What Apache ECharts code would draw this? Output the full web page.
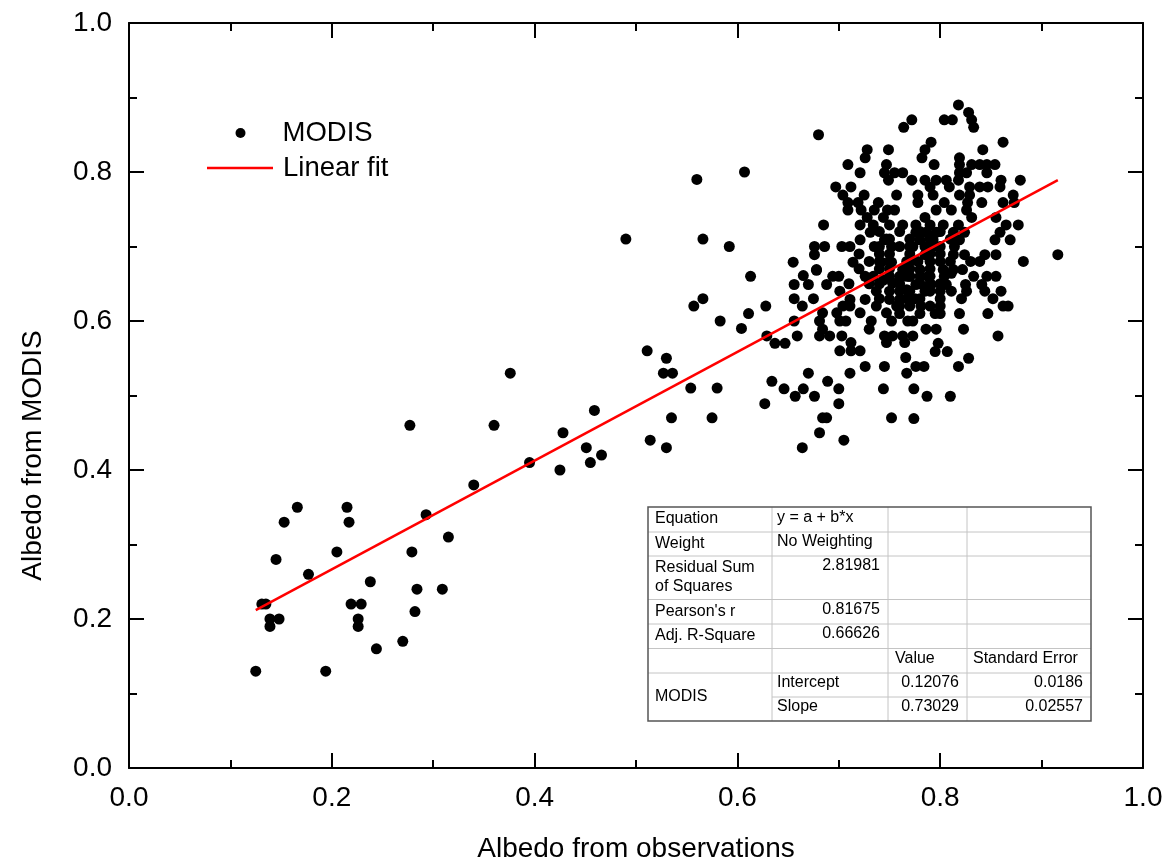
<!DOCTYPE html>
<html>
<head>
<meta charset="utf-8">
<script src="https://cdn.jsdelivr.net/npm/echarts@6/dist/echarts.min.js"></script>
<style>html,body{margin:0;padding:0;background:#fff}#chart{width:1173px;height:868px}</style>
</head>
<body>
<div id="chart"></div>
<script>
// ---- data ----
const xTickLabels = ['0.0', '0.2', '0.4', '0.6', '0.8', '1.0'];
const yTickLabels = ['0.0', '0.2', '0.4', '0.6', '0.8', '1.0'];
const seriesNames = ['MODIS', 'Linear fit'];
const axisNames = ['Albedo from observations', 'Albedo from MODIS'];

// [albedo from observations, albedo from MODIS]
const modisLow = [
  [0.277,0.460],[0.340,0.380],[0.166,0.350],[0.215,0.350],[0.153,0.330],[0.217,0.330],[0.293,0.340],
  [0.315,0.310],[0.205,0.290],[0.279,0.290],[0.145,0.280],[0.177,0.260],[0.238,0.250],[0.284,0.240],
  [0.309,0.240],[0.131,0.220],[0.135,0.220],[0.219,0.220],[0.229,0.220],[0.139,0.200],[0.148,0.200],
  [0.139,0.190],[0.226,0.200],[0.226,0.190],[0.282,0.210],[0.270,0.170],[0.244,0.160],[0.125,0.130],
  [0.194,0.130]
];
const modisMid = [
  [0.490,0.710],[0.566,0.710],[0.592,0.700],[0.613,0.660],[0.566,0.630],[0.557,0.620],[0.583,0.600],
  [0.611,0.610],[0.604,0.590],[0.376,0.530],[0.511,0.560],[0.530,0.550],[0.527,0.530],[0.536,0.530],
  [0.554,0.510],[0.580,0.510],[0.535,0.470],[0.575,0.470],[0.360,0.460],[0.459,0.480],[0.428,0.450],
  [0.514,0.440],[0.530,0.430],[0.451,0.430],[0.466,0.420],[0.455,0.410],[0.425,0.400],[0.395,0.410],
  [0.560,0.790],[0.607,0.800],[0.680,0.850]
];
const modisClusterLow = [
  [0.628,0.620],[0.629,0.580],[0.637,0.570],[0.647,0.570],[0.659,0.580],[0.656,0.600],[0.656,0.630],
  [0.664,0.620],[0.656,0.649],[0.665,0.661],[0.670,0.649],[0.675,0.630],[0.678,0.668],[0.688,0.649],
  [0.694,0.660],[0.684,0.611],[0.681,0.600],[0.681,0.580],[0.691,0.580],[0.684,0.589],[0.701,0.600],
  [0.707,0.600],[0.703,0.580],[0.701,0.560],[0.712,0.571],[0.721,0.560],[0.712,0.560],[0.701,0.640],
  [0.711,0.629],[0.704,0.620],[0.698,0.611],[0.711,0.620],[0.721,0.611],[0.726,0.629],[0.726,0.660],
  [0.734,0.660],[0.732,0.600],[0.730,0.589],[0.737,0.620],[0.737,0.640],[0.726,0.539],[0.711,0.530],
  [0.745,0.539],[0.745,0.580],[0.747,0.571],[0.753,0.580],[0.752,0.600],[0.747,0.611],[0.744,0.655],
  [0.753,0.651],[0.750,0.629],[0.760,0.629],[0.757,0.620],[0.767,0.660],[0.767,0.642],[0.768,0.600],
  [0.765,0.571],[0.763,0.580],[0.766,0.551],[0.767,0.530],
  [0.634,0.519],[0.646,0.509],[0.657,0.499],[0.665,0.509],[0.670,0.530],[0.676,0.499],[0.689,0.519],
  [0.700,0.509],[0.700,0.489],[0.627,0.489],[0.684,0.470],[0.688,0.470],[0.681,0.450],[0.664,0.430],
  [0.705,0.440],[0.744,0.509],[0.752,0.470]
];
const modisClusterRight = [
  [0.819,0.610],[0.847,0.610],[0.773,0.600],[0.786,0.589],[0.796,0.589],[0.823,0.589],[0.857,0.580],
  [0.773,0.580],[0.798,0.570],[0.795,0.559],[0.807,0.559],[0.828,0.550],[0.776,0.539],[0.784,0.539],
  [0.818,0.539],[0.774,0.509],[0.787,0.499],[0.810,0.499],[0.774,0.469],
  [0.833,0.660],[0.846,0.660],[0.855,0.660],[0.841,0.649],[0.844,0.640],[0.860,0.640],[0.852,0.630],
  [0.862,0.620],[0.867,0.620],[0.825,0.649],[0.826,0.640],[0.821,0.630],[0.811,0.640],[0.806,0.649],
  [0.804,0.660],[0.811,0.664],[0.791,0.649],[0.785,0.640],[0.776,0.649],[0.775,0.630],[0.790,0.620],
  [0.781,0.620],[0.795,0.610],[0.767,0.630],[0.788,0.660],[0.780,0.660]
];
const modisClusterTop = [
  [0.818,0.890],[0.828,0.880],[0.804,0.870],[0.812,0.870],[0.772,0.870],[0.764,0.860],[0.831,0.870],
  [0.833,0.860],[0.791,0.840],[0.862,0.840],[0.785,0.830],[0.842,0.830],[0.782,0.819],[0.819,0.819],
  [0.794,0.810],[0.819,0.810],[0.831,0.810],[0.839,0.810],[0.846,0.810],[0.854,0.810],[0.819,0.799],
  [0.826,0.799],[0.846,0.799],[0.763,0.799],[0.772,0.789],[0.785,0.789],[0.796,0.789],[0.806,0.789],
  [0.818,0.789],[0.860,0.789],[0.879,0.789],[0.790,0.780],[0.809,0.780],[0.829,0.780],[0.839,0.780],
  [0.847,0.780],[0.859,0.780],[0.778,0.769],[0.793,0.769],[0.819,0.769],[0.829,0.769],[0.872,0.769],
  [0.778,0.759],[0.804,0.759],[0.827,0.759],[0.841,0.759],[0.862,0.759],[0.873,0.759],[0.796,0.749],
  [0.811,0.749],[0.826,0.749],[0.785,0.739],[0.831,0.739],[0.855,0.739],[0.763,0.729],[0.776,0.729],
  [0.790,0.729],[0.803,0.729],[0.818,0.729],[0.865,0.729],[0.877,0.729],[0.776,0.719],[0.786,0.719],
  [0.796,0.719],[0.813,0.719],[0.824,0.719],[0.859,0.719],[0.780,0.709],[0.793,0.709],[0.819,0.709],
  [0.854,0.709],[0.869,0.709],[0.760,0.700],[0.773,0.700],[0.785,0.700],[0.793,0.700],[0.814,0.700],
  [0.785,0.689],[0.813,0.689],[0.824,0.689],[0.844,0.689],[0.855,0.689],[0.916,0.689],[0.839,0.680],
  [0.882,0.680],[0.767,0.680],[0.778,0.680],[0.790,0.680],[0.803,0.669],[0.813,0.669],[0.822,0.669],
  [0.763,0.669],[0.770,0.660],[0.780,0.669]
];
const modisClusterLeft = [
  [0.728,0.830],[0.749,0.830],[0.726,0.819],[0.709,0.810],[0.747,0.810],[0.721,0.799],[0.745,0.799],
  [0.755,0.799],[0.749,0.789],[0.697,0.780],[0.712,0.780],[0.704,0.769],[0.725,0.769],[0.757,0.769],
  [0.709,0.759],[0.719,0.759],[0.739,0.759],[0.709,0.749],[0.722,0.749],[0.735,0.749],[0.748,0.749],
  [0.755,0.749],[0.728,0.739],[0.744,0.739],[0.685,0.729],[0.721,0.729],[0.734,0.729],[0.750,0.729],
  [0.731,0.719],[0.721,0.709],[0.745,0.709],[0.676,0.700],[0.686,0.700],[0.703,0.700],[0.711,0.700],
  [0.735,0.700],[0.752,0.700],[0.676,0.689],[0.655,0.679],[0.714,0.679],[0.742,0.679],[0.752,0.679],
  [0.678,0.669],[0.747,0.710]
];
const modisClusterCore = [
  [0.74,0.72],[0.76,0.72],[0.78,0.72],[0.80,0.72],[0.75,0.71],[0.77,0.71],[0.79,0.71],[0.81,0.71],
  [0.74,0.70],[0.77,0.70],[0.80,0.70],[0.74,0.69],[0.75,0.69],[0.77,0.69],[0.79,0.69],[0.80,0.69],
  [0.74,0.68],[0.75,0.68],[0.77,0.68],[0.80,0.68],[0.81,0.68],[0.83,0.68],[0.74,0.67],[0.75,0.67],
  [0.77,0.67],[0.79,0.67],[0.75,0.66],[0.76,0.66],[0.77,0.66],[0.79,0.66],[0.74,0.65],[0.76,0.65],
  [0.78,0.65],[0.79,0.65],[0.80,0.65],[0.75,0.64],[0.76,0.64],[0.77,0.64],[0.79,0.64],[0.80,0.64],
  [0.74,0.63],[0.77,0.63],[0.78,0.63],[0.80,0.63],[0.76,0.62],[0.77,0.62],[0.80,0.62],[0.76,0.61],
  [0.78,0.61],[0.80,0.61],[0.72,0.69],[0.73,0.68],[0.72,0.67],[0.70,0.66],[0.71,0.65],[0.73,0.65]
];
// linear fit segment as drawn (start, end)
const fitLine = [[0.125, 0.212], [0.916, 0.789]];

// fit statistics table
const tableLabels = ['Equation', 'Weight', 'Residual Sum', 'of Squares', "Pearson's r", 'Adj. R-Square', 'MODIS'];
const tableCol2Text = ['y = a + b*x', 'No Weighting', 'Intercept', 'Slope'];
const tableCol2Nums = ['2.81981', '0.81675', '0.66626'];
const tableHeaders = ['Value', 'Standard Error'];
const tableValues = ['0.12076', '0.73029'];
const tableErrors = ['0.0186', '0.02557'];

// ---- chart ----
const FONT = "'Liberation Sans', Arial, sans-serif";
const modisPoints = [].concat(modisLow, modisMid, modisClusterLow, modisClusterRight,
  modisClusterTop, modisClusterLeft, modisClusterCore);

const chart = echarts.init(document.getElementById('chart'), null, {renderer: 'canvas'});

const tickCommon = {
  axisLine: {show: true, onZero: false, lineStyle: {color: '#000', width: 2}},
  axisTick: {show: true, inside: true, length: 15, lineStyle: {color: '#000', width: 2}},
  minorTick: {show: true, splitNumber: 2, length: 8, lineStyle: {color: '#000', width: 2}},
  splitLine: {show: false},
  min: 0, max: 1, interval: 0.2
};

// table graphic
const TX = [648, 772, 888, 967, 1091];
const TY = [507, 532, 556, 599.5, 624, 648.5, 673, 697, 721];
const tEls = [];
const tFont = '16px ' + FONT;
tEls.push({type: 'rect', shape: {x: TX[0], y: TY[0], width: TX[4] - TX[0], height: TY[8] - TY[0]},
  style: {fill: '#fff', stroke: 'none'}, z: 100});
for (let i = 1; i <= 6; i++) {
  tEls.push({type: 'line', shape: {x1: TX[0], y1: TY[i], x2: TX[4], y2: TY[i]}, style: {stroke: '#c4c4c4', lineWidth: 1}, z: 101});
}
tEls.push({type: 'line', shape: {x1: TX[1], y1: TY[7], x2: TX[4], y2: TY[7]}, style: {stroke: '#c4c4c4', lineWidth: 1}, z: 101});
for (let j = 1; j <= 3; j++) {
  tEls.push({type: 'line', shape: {x1: TX[j], y1: TY[0], x2: TX[j], y2: TY[8]}, style: {stroke: '#c4c4c4', lineWidth: 1}, z: 101});
}
tEls.push({type: 'rect', shape: {x: TX[0], y: TY[0], width: TX[4] - TX[0], height: TY[8] - TY[0]},
  style: {fill: 'none', stroke: '#555', lineWidth: 1.5}, z: 102});
function tText(str, x, y, align) {
  tEls.push({type: 'text', x: x, y: y, z: 103,
    style: {text: str, font: tFont, fill: '#000', align: align || 'left', verticalAlign: 'middle'}});
}
const labelY = [519, 543.3, 567.7, 586.7, 611.7, 636, 696.7];
tableLabels.forEach((s, i) => tText(s, 655, labelY[i]));
const col2Y = [517.3, 541.7, 682.7, 706.7];
tableCol2Text.forEach((s, i) => tText(s, 777, col2Y[i]));
const numY = [565.7, 610, 634];
tableCol2Nums.forEach((s, i) => tText(s, 880, numY[i], 'right'));
tText(tableHeaders[0], 895, 658.3);
tText(tableHeaders[1], 973, 658.3);
tableValues.forEach((s, i) => tText(s, 959, [682.7, 706.7][i], 'right'));
tableErrors.forEach((s, i) => tText(s, 1083, [682.7, 706.7][i], 'right'));

const legendText1 = {fontSize: 27.5, fontFamily: FONT, color: '#000', padding: [0, 0, 0, 18]};
const legendText2 = {fontSize: 27.5, fontFamily: FONT, color: '#000', padding: [0, 0, 0, 5]};
const option = {
  backgroundColor: '#fff',
  animation: false,
  textStyle: {fontFamily: FONT},
  grid: {left: 129, right: 30, top: 23, bottom: 99, containLabel: false},
  legend: [
    {data: [{name: seriesNames[0], icon: 'circle'}], left: 235.5, top: 119, padding: 0,
      itemWidth: 38, itemHeight: 10, textStyle: legendText1},
    {data: [{name: seriesNames[1], icon: 'rect'}], left: 207, top: 154, padding: 0,
      itemWidth: 66, itemHeight: 2.5, textStyle: legendText2}
  ],
  xAxis: [
    Object.assign({}, tickCommon, {
      type: 'value', position: 'bottom',
      name: axisNames[0], nameLocation: 'middle', nameGap: 67,
      nameTextStyle: {fontSize: 28, fontFamily: FONT, color: '#000'},
      axisLabel: {show: true, margin: 16, fontSize: 28, fontFamily: FONT, color: '#000',
        formatter: v => xTickLabels[Math.round(v / 0.2)]}
    }),
    Object.assign({}, tickCommon, {type: 'value', position: 'top', axisLabel: {show: false}})
  ],
  yAxis: [
    Object.assign({}, tickCommon, {
      type: 'value', position: 'left',
      name: axisNames[1], nameLocation: 'middle', nameGap: 82,
      nameTextStyle: {fontSize: 28, fontFamily: FONT, color: '#000', padding: [0, 120, 0, 0]},
      axisLabel: {show: true, margin: 17, fontSize: 28, fontFamily: FONT, color: '#000',
        formatter: v => yTickLabels[Math.round(v / 0.2)]}
    }),
    Object.assign({}, tickCommon, {type: 'value', position: 'right', axisLabel: {show: false}})
  ],
  series: [
    {name: seriesNames[0], type: 'scatter', xAxisIndex: 0, yAxisIndex: 0,
      data: modisPoints, symbol: 'circle', symbolSize: 11,
      itemStyle: {color: '#000', opacity: 1}, z: 2},
    {name: seriesNames[1], type: 'line', xAxisIndex: 0, yAxisIndex: 0,
      data: fitLine, symbol: 'none', showSymbol: false,
      lineStyle: {color: '#ff0000', width: 2.5}, itemStyle: {color: '#ff0000'}, z: 3}
  ],
  graphic: tEls
};
chart.setOption(option);
</script>
</body>
</html>
